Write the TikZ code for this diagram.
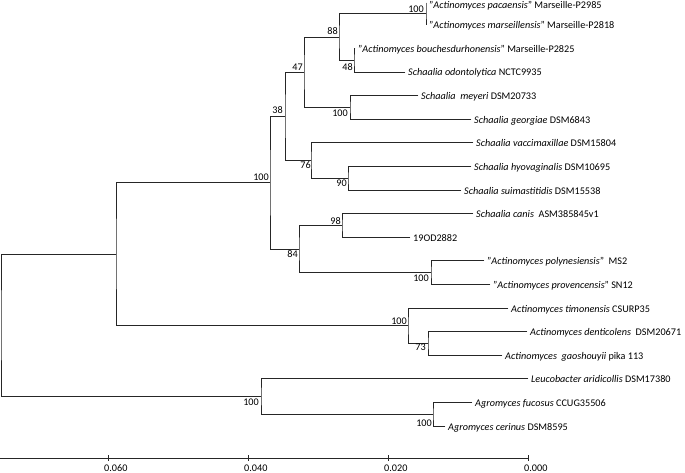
\documentclass[tikz,border=0pt]{standalone}
\usepackage{fontspec}
\setmainfont{Carlito}
\begin{document}
\begin{tikzpicture}[x=1pt,y=-1pt,
  br/.style={line width=0.8pt, draw=black!85, line cap=rect},
  leaf/.style={anchor=base west, inner sep=0pt, xshift=3pt, yshift=-4pt, font=\fontsize{10.2}{12}\selectfont},
  boot/.style={anchor=base east, inner sep=0pt, font=\fontsize{10.2}{12}\selectfont},
  axlab/.style={anchor=base west, inner sep=0pt, font=\fontsize{10.2}{12}\selectfont}]
\useasboundingbox (0,0) rectangle (685,473);
% leaf tips
\coordinate (t0) at (426,3);
\coordinate (t1) at (426,24.8);
\coordinate (t2) at (355,48.4);
\coordinate (t3) at (405,72);
\coordinate (t4) at (418,95.6);
\coordinate (t5) at (471,119.2);
\coordinate (t6) at (473,142.8);
\coordinate (t7) at (471,166.4);
\coordinate (t8) at (461,190);
\coordinate (t9) at (473,213.6);
\coordinate (t10) at (410,237.2);
\coordinate (t11) at (484,260.8);
\coordinate (t12) at (490,284.4);
\coordinate (t13) at (508,308);
\coordinate (t14) at (527,331.6);
\coordinate (t15) at (502,355.2);
\coordinate (t16) at (528,378.8);
\coordinate (t17) at (472,402.4);
\coordinate (t18) at (445,426);
% internal nodes
\coordinate (pm) at (426,13.9);
\coordinate (n88) at (339,37);
\coordinate (n48) at (354,60.2);
\coordinate (mg) at (350,107.4);
\coordinate (n47) at (304,72);
\coordinate (n90) at (348,178.2);
\coordinate (n76) at (311,160.5);
\coordinate (n38) at (285,116);
\coordinate (n98) at (342,225.4);
\coordinate (pp) at (431,272.6);
\coordinate (n84) at (299,249);
\coordinate (nB) at (270,182.5);
\coordinate (n73) at (428,343.4);
\coordinate (nC) at (408,325.7);
\coordinate (nA) at (116,254);
\coordinate (ag) at (433,414.2);
\coordinate (low) at (261,396.5);
\coordinate (root) at (1,325.2);
% branches
\draw[br] (t0) -| (pm) |- (t1);
\draw[br] (t2) -| (n48) |- (t3);
\draw[br] (pm) -| (n88) |- (n48);
\draw[br] (t4) -| (mg) |- (t5);
\draw[br] (n88) -| (n47) |- (mg);
\draw[br] (t7) -| (n90) |- (t8);
\draw[br] (t6) -| (n76) |- (n90);
\draw[br] (n47) -| (n38) |- (n76);
\draw[br] (t9) -| (n98) |- (t10);
\draw[br] (t11) -| (pp) |- (t12);
\draw[br] (n98) -| (n84) |- (pp);
\draw[br] (n38) -| (nB) |- (n84);
\draw[br] (t14) -| (n73) |- (t15);
\draw[br] (t13) -| (nC) |- (n73);
\draw[br] (nB) -| (nA) |- (nC);
\draw[br] (t17) -| (ag) |- (t18);
\draw[br] (t16) -| (low) |- (ag);
\draw[br] (nA) -| (root) |- (low);
% leaf labels
\node[leaf, yshift=-1.6pt] (l0) at (t0) {"\textit{Actinomyces pacaensis}" Marseille-P2985};
\node[leaf] (l1) at (t1) {"\textit{Actinomyces marseillensis}" Marseille-P2818};
\node[leaf] (l2) at (t2) {"\textit{Actinomyces bouchesdurhonensis}" Marseille-P2825};
\node[leaf] (l3) at (t3) {\textit{Schaalia odontolytica} NCTC9935};
\node[leaf] (l4) at (t4) {\textit{Schaalia\ \ meyeri} DSM20733};
\node[leaf] (l5) at (t5) {\textit{Schaalia georgiae} DSM6843};
\node[leaf] (l6) at (t6) {\textit{Schaalia vaccimaxillae} DSM15804};
\node[leaf] (l7) at (t7) {\textit{Schaalia hyovaginalis} DSM10695};
\node[leaf] (l8) at (t8) {\textit{Schaalia suimastitidis} DSM15538};
\node[leaf] (l9) at (t9) {\textit{Schaalia canis}\ \ ASM385845v1};
\node[leaf] (l10) at (t10) {19OD2882};
\node[leaf] (l11) at (t11) {"\textit{Actinomyces polynesiensis}"\ \ MS2};
\node[leaf] (l12) at (t12) {"\textit{Actinomyces provencensis}" SN12};
\node[leaf] (l13) at (t13) {\textit{Actinomyces timonensis} CSURP35};
\node[leaf] (l14) at (t14) {\textit{Actinomyces denticolens}\ \ DSM20671};
\node[leaf] (l15) at (t15) {\textit{Actinomyces\ \ gaoshouyii} pika 113};
\node[leaf] (l16) at (t16) {\textit{Leucobacter aridicollis} DSM17380};
\node[leaf] (l17) at (t17) {\textit{Agromyces fucosus} CCUG35506};
\node[leaf] (l18) at (t18) {\textit{Agromyces cerinus} DSM8595};
% bootstrap values
\node[boot] (b1) at (424,12.8) {100};
\node[boot] (b2) at (338,35) {88};
\node[boot] (b3) at (353,70.5) {48};
\node[boot] (b4) at (303,70.5) {47};
\node[boot] (b5) at (348,117) {100};
\node[boot] (b6) at (283,114) {38};
\node[boot] (b7) at (311,169) {76};
\node[boot] (b8) at (347,187) {90};
\node[boot] (b9) at (269,181) {100};
\node[boot] (b10) at (341,224) {98};
\node[boot] (b11) at (298,257) {84};
\node[boot] (b12) at (429,281) {100};
\node[boot] (b13) at (407,324.5) {100};
\node[boot] (b14) at (426,350) {73};
\node[boot] (b15) at (259,405) {100};
\node[boot] (b16) at (432,426) {100};
% scale axis
\coordinate (a0) at (0,458);
\coordinate (a1) at (529,458);
\draw[br, line cap=butt] (a0) -- (a1);
\foreach \tx/\lab in {108/0.060, 248/0.040, 388/0.020, 528/0.000}{
  \draw[br, line cap=butt] (\tx,455) -- (\tx,461);
  \node[axlab] at (\tx-4,471.5) {\lab};
}
\end{tikzpicture}
\end{document}
